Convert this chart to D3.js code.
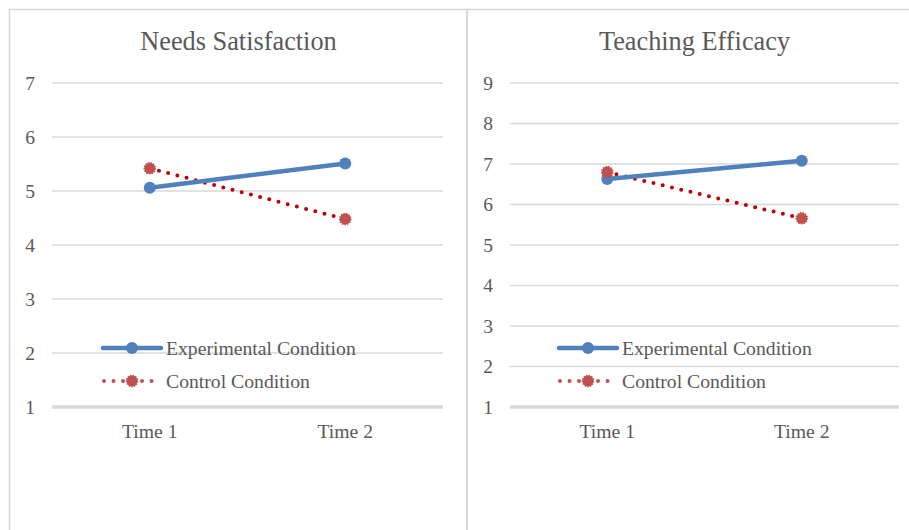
<!DOCTYPE html>
<html>
<head>
<meta charset="utf-8">
<script src="https://cdn.jsdelivr.net/npm/d3@7"></script>
<style>
  html, body { margin: 0; padding: 0; background: #fff; }
  svg { display: block; }
  text { font-family: "Liberation Serif", "Times New Roman", serif; fill: #595959; }
</style>
</head>
<body>
<script>
// ---- data ----
const categories = ["Time 1", "Time 2"];
const seriesNames = ["Experimental Condition", "Control Condition"];
const needsExperimental = [5.06, 5.51];
const needsControl = [5.42, 4.48];
const efficacyExperimental = [6.63, 7.08];
const efficacyControl = [6.80, 5.66];
const needsTicks = [1, 2, 3, 4, 5, 6, 7];
const efficacyTicks = [1, 2, 3, 4, 5, 6, 7, 8, 9];

const W = 909, H = 530;
const svg = d3.select("body").append("svg").attr("width", W).attr("height", H);

const BLUE = "#4f81bd", RED_LINE = "#c00000", RED_MARK = "#c0504d", GRID = "#d9d9d9";

function panel(opts) {
  const g = svg.append("g");
  // panel border
  g.append("rect")
    .attr("x", opts.px).attr("y", 9.5)
    .attr("width", opts.pw).attr("height", H + 20)
    .attr("fill", "none").attr("stroke", GRID).attr("stroke-width", 1.6);

  g.append("text")
    .attr("x", opts.titleX).attr("y", 50)
    .attr("text-anchor", "middle")
    .style("font-size", "26.3px")
    .text(opts.title);

  const x = d3.scaleBand().domain(categories).range([opts.x0, opts.x1]);
  const y = d3.scaleLinear().domain([opts.ticks[0], opts.ticks[opts.ticks.length - 1]]).range([407, 83]);

  // gridlines
  g.selectAll(".grid").data(opts.ticks.slice(1)).join("line")
    .attr("x1", opts.x0).attr("x2", opts.x1)
    .attr("y1", d => y(d)).attr("y2", d => y(d))
    .attr("stroke", GRID).attr("stroke-width", 1.4);
  // base axis line
  g.append("line")
    .attr("x1", opts.x0).attr("x2", opts.x1)
    .attr("y1", y(opts.ticks[0])).attr("y2", y(opts.ticks[0]))
    .attr("stroke", GRID).attr("stroke-width", 3.5);

  // y tick labels
  g.selectAll(".yl").data(opts.ticks).join("text")
    .attr("x", opts.x0 - 22).attr("y", d => y(d) + 6.5)
    .attr("text-anchor", "middle")
    .style("font-size", "19.5px")
    .text(d => d);

  // x tick labels
  g.selectAll(".xl").data(categories).join("text")
    .attr("x", d => x(d) + x.bandwidth() / 2).attr("y", 438)
    .attr("text-anchor", "middle")
    .style("font-size", "19.7px")
    .text(d => d);

  const cx = (d, i) => x(categories[i]) + x.bandwidth() / 2;
  const line = d3.line().x(cx).y(d => y(d));

  // control (dotted)
  g.append("path").datum(opts.ctrl)
    .attr("d", line).attr("fill", "none")
    .attr("stroke", RED_LINE).attr("stroke-width", 4)
    .attr("stroke-linecap", "round").attr("stroke-dasharray", "0,9.5");
  // experimental (solid)
  g.append("path").datum(opts.exp)
    .attr("d", line).attr("fill", "none")
    .attr("stroke", BLUE).attr("stroke-width", 4.5)
    .attr("stroke-linecap", "round");

  g.selectAll(".em").data(opts.exp).join("circle")
    .attr("cx", cx).attr("cy", d => y(d)).attr("r", 6)
    .attr("fill", BLUE);
  g.selectAll(".cm").data(opts.ctrl).join("circle")
    .attr("cx", cx).attr("cy", d => y(d)).attr("r", 5.5)
    .attr("fill", RED_MARK).attr("stroke", RED_MARK)
    .attr("stroke-width", 1.6).attr("stroke-dasharray", "1.4,1.2");

  // legend
  const lx = opts.legX;
  const ly1 = 348, ly2 = 381;
  g.append("line").attr("x1", lx).attr("x2", lx + 58).attr("y1", ly1).attr("y2", ly1)
    .attr("stroke", BLUE).attr("stroke-width", 4.5).attr("stroke-linecap", "round");
  g.append("circle").attr("cx", lx + 29).attr("cy", ly1).attr("r", 6).attr("fill", BLUE);
  g.append("text").attr("x", lx + 63).attr("y", ly1 + 6.5)
    .style("font-size", "19.7px").text(seriesNames[0]);

  g.append("line").attr("x1", lx + 1).attr("x2", lx + 58).attr("y1", ly2).attr("y2", ly2)
    .attr("stroke", RED_MARK).attr("stroke-width", 4)
    .attr("stroke-linecap", "round").attr("stroke-dasharray", "0,9.5");
  g.append("circle").attr("cx", lx + 29).attr("cy", ly2).attr("r", 5.5)
    .attr("fill", RED_MARK).attr("stroke", RED_MARK)
    .attr("stroke-width", 1.6).attr("stroke-dasharray", "1.4,1.2");
  g.append("text").attr("x", lx + 63).attr("y", ly2 + 6.5)
    .style("font-size", "19.7px").text(seriesNames[1]);
}

panel({ px: 9.5, pw: 457.5, title: "Needs Satisfaction", titleX: 238.5,
        x0: 52, x1: 443, ticks: needsTicks, exp: needsExperimental, ctrl: needsControl, legX: 103 });
panel({ px: 467, pw: 460, title: "Teaching Efficacy", titleX: 694.5,
        x0: 510, x1: 899, ticks: efficacyTicks, exp: efficacyExperimental, ctrl: efficacyControl, legX: 559 });
</script>
</body>
</html>
